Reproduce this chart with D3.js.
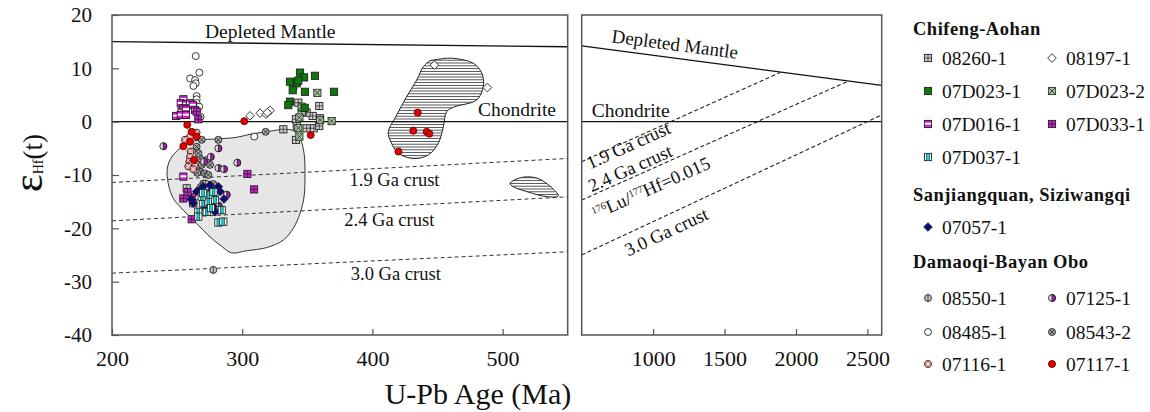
<!DOCTYPE html>
<html>
<head>
<meta charset="utf-8">
<script src="https://cdn.jsdelivr.net/npm/d3@7"></script>
<style>
  body { margin: 0; background: #fff; }
  svg { font-family: "Liberation Serif", "Times New Roman", serif; }
  svg text { font-family: "Liberation Serif", "Times New Roman", serif; }
</style>
</head>
<body>
<svg id="chart" width="1150" height="412"></svg>
<script>
/*data======================================================================================================*/
// [U-Pb age (Ma), eHf(t)]
var s08260_1 = [[343.1, 3.56], [359.2, 2.94], [354.1, 1.07], [349.5, 1.69], [345.7, 1.88], [359.8, 0.64], [341.3, 0.45],
  [341.9, -0.81], [349.5, -1.24], [355.1, -1.24], [359.2, -0.81], [331.6, -1.43], [341.3, -3.43], [257.4, -12.5], [262.4, -15.3]]
var s08197_1 = [[306, 1.1], [313.7, 1.6], [318.3, 1.4], [321.4, 2.1], [319.3, 1.7], [447.6, 10.6], [488.3, 6.4]]
var s07D023_1 = [[344.4, 9.2], [347.5, 8.3], [355.9, 8.6], [336.7, 7.5], [341.9, 7.2], [343.1, 7.7], [338.8, 5.9],
  [348.2, 5.6], [370.5, 5.6], [336.7, 3.75], [335.4, 3.1], [348, 2.6]]
var s07D023_2 = [[339.2, 6.7], [357.7, 5.4], [345.7, 2.8], [343.9, 0.8], [368.7, 0.1], [343.1, -1.2], [343.9, -2.8], [359.8, 0.3]]
var s07D016_1 = [[254.8, 4.2], [252.8, 3.45], [256.8, 3.3], [259.9, 3.45], [262, 3.1], [254.8, 2.5], [253.5, 1.9],
  [256.8, 2.3], [249.2, 1.07], [252.8, 1.25], [256.8, 1.25], [263.7, 2.2], [254.8, -10.3]]
var s07D033_1 = [[265, 1.9], [266.3, 0.45], [304, -9.8], [309.1, -12.7], [254.8, -14.4], [261.2, -14.1], [258, -13.2], [261.2, -18.3]]
var s07D037_1 = [[281.7, -18.9], [285.5, -18.75], [284.3, -16.6], [266.3, -16.9], [266.3, -17.8], [272.7, -16.9], [270.1, -15.3],
  [274, -15], [279.1, -14.7], [274, -13.7], [268.9, -14.06], [276, -16.2], [270, -13.4], [278, -13.2]]
var s07057_1 = [[270.1, -12.2], [275.3, -11.9], [281.7, -12.2], [276.6, -12.8], [283, -13.1], [265, -13.1], [262.4, -15.3],
  [277.8, -15.9], [279.1, -16.9], [271.4, -16.2], [268, -12.7], [273, -14.3], [286, -14.5], [261, -14.6]]
var s08550_1 = [[277.8, -27.8], [272, -11.6], [268, -12.3]]
var s07125_1 = [[239.4, -4.6], [281.7, -5.0], [275.8, -6.6], [281.7, -8.7], [286, -8.9], [296.2, -7.7], [270.7, -7.5], [288.1, -13.7], [282, -15.8]]
var s08485_1 = [[264.3, 12.3], [267.1, 9.2], [260, 8.1], [263.8, 7.8], [264.3, 7.2], [262.5, 6.7], [265, 4.8], [265, 4.2],
  [265, 3.5], [265, 2.9], [267, 2.8], [265, 2.1], [268, 0.9], [309.3, -2.8]]
var s08543_2 = [[265, -4.7], [268.9, -3.4], [267.6, -6.9], [272.7, -7.2], [268.9, -8.1], [267.6, -9.4], [271.4, -9.7], [275.3, -8.1],
  [274, -10], [281.7, -3.4], [318, -1.9], [265.5, -9.6], [270.1, -11.6], [277.8, -11.7], [266.3, -5.9]]
var s07116_1 = [[259.9, -2.8], [256.1, -3.4], [260.4, -5.6], [259.9, -6.6], [259.4, -7.5], [261.2, -7.9], [258.6, -8.4],
  [263.7, -8.3], [262.4, -8.9], [265, -2.06]]
var s07117_1 = [[257.8, -0.6], [301.6, 0.1], [352.6, -2.5], [261.2, -1.9], [254.8, -4.6], [259.9, -3.75], [265, -2.8],
  [434.8, 1.7], [431.4, -1.7], [441.7, -1.9], [443.7, -2.25], [420, -5.6], [263, -7.2]]

// outline of the grey field and the two hatched fields
var greyField = [[267.6, -3.43], [280.4, -3.24], [295.8, -2.93], [306, -2.36], [313.7, -2.06], [323.9, -1.69], [331.6, -1.43],
  [339.2, -1.69], [344.4, -3.1], [347.5, -5.9], [348.2, -9.7], [347.5, -14.1], [344.4, -17.2], [339.2, -20], [331.6, -22.2],
  [318.8, -23.6], [303.5, -24.2], [291.9, -24.6], [284.3, -23.4], [275.3, -21.6], [265.1, -19.1], [254.8, -16.6], [247.1, -14.4],
  [243.2, -11.6], [242.5, -8.7], [245.9, -6.6], [252.2, -5.0], [259.9, -3.9]]
var hatchField1 = [[448.1, 11.6], [460.9, 11.9], [477.5, 10.95], [484, 9.1], [485.2, 6.6], [480.1, 4.07], [463.4, 2.8],
  [457.1, 1.9], [454.5, -0.94], [450.6, -4.05], [442.9, -6.25], [431.4, -6.9], [419.9, -5.9], [413.5, -3.4], [412.2, -1.9],
  [418.7, 1.26], [426.3, 4.7], [434, 7.8], [439.1, 10.3], [444.2, 11.4]]
var hatchField2 = [[505.7, -11.55], [515.9, -10.4], [528.7, -10.8], [542.8, -13.9], [533.9, -14.06], [518.5, -13.1], [508.2, -12.2]]

// evolution lines
var dmLeft = [[200, 15.0], [550, 14.05]]
var dmRight = [[500, 14.2], [2600, 6.8]]
var crustNames = ["1.9 Ga crust", "2.4 Ga crust", "3.0 Ga crust"]
var crustLeft = [[[200, -11.4], [550, -6.9]], [[200, -18.6], [550, -14.1]], [[200, -28.4], [550, -24.4]]]
var crustRight = [[[500, -7.5], [1888, 9.2]], [[500, -14.7], [2366, 7.6]], [[500, -25], [2600, 1.25]]]

var yTicks = [20, 10, 0, -10, -20, -30, -40]
var xTicksLeft = [200, 300, 400, 500]
var xTicksRight = [1000, 1500, 2000, 2500]

/*chart======================================================================================================*/
var svg = d3.select("#chart")

var xL = d3.scaleLinear().domain([200, 550]).range([112, 567.7])
var xR = d3.scaleLinear().domain([500, 2600]).range([581.7, 881.7])
var y = d3.scaleLinear().domain([-40, 20]).range([335, 15])

var defs = svg.append("defs")
var hatch = defs.append("pattern").attr("id", "hatch")
  .attr("patternUnits", "userSpaceOnUse").attr("width", 8).attr("height", 2.8)
hatch.append("rect").attr("width", 8).attr("height", 2.8).attr("fill", "#fff")
hatch.append("line").attr("x1", 0).attr("x2", 8).attr("y1", 1.4).attr("y2", 1.4)
  .attr("stroke", "#222").attr("stroke-width", 0.8)

defs.append("clipPath").attr("id", "clipL").append("rect")
  .attr("x", 112).attr("y", 15).attr("width", 455.7).attr("height", 320)
defs.append("clipPath").attr("id", "clipR").append("rect")
  .attr("x", 581.7).attr("y", 15).attr("width", 300).attr("height", 320)

var shape = d3.line().x(d => xL(d[0])).y(d => y(d[1])).curve(d3.curveCatmullRomClosed)
var lineL = d3.line().x(d => xL(d[0])).y(d => y(d[1]))
var lineR = d3.line().x(d => xR(d[0])).y(d => y(d[1]))

var left = svg.append("g").attr("clip-path", "url(#clipL)")
var right = svg.append("g").attr("clip-path", "url(#clipR)")

//fields
left.append("path").datum(greyField).attr("d", shape)
  .attr("fill", "#e6e6e6").attr("stroke", "#333").attr("stroke-width", 1)
left.selectAll("path.hatch").data([hatchField1, hatchField2]).enter().append("path")
  .attr("class", "hatch").attr("d", shape)
  .attr("fill", "url(#hatch)").attr("stroke", "#222").attr("stroke-width", 1)

//chondrite
left.append("line").attr("x1", xL(200)).attr("x2", xL(550)).attr("y1", y(0)).attr("y2", y(0))
  .attr("stroke", "#111").attr("stroke-width", 1.3)
right.append("line").attr("x1", xR(500)).attr("x2", xR(2600)).attr("y1", y(0)).attr("y2", y(0))
  .attr("stroke", "#111").attr("stroke-width", 1.3)

//depleted mantle
left.append("path").datum(dmLeft).attr("d", lineL).attr("fill", "none").attr("stroke", "#111").attr("stroke-width", 1.3)
right.append("path").datum(dmRight).attr("d", lineR).attr("fill", "none").attr("stroke", "#111").attr("stroke-width", 1.3)

//crust lines
left.selectAll("path.crust").data(crustLeft).enter().append("path").attr("class", "crust")
  .attr("d", lineL).attr("fill", "none").attr("stroke", "#333").attr("stroke-width", 1).attr("stroke-dasharray", "4 3")
right.selectAll("path.crust").data(crustRight).enter().append("path").attr("class", "crust")
  .attr("d", lineR).attr("fill", "none").attr("stroke", "#222").attr("stroke-width", 1.1).attr("stroke-dasharray", "4 2.5")

/*line labels===============================================================================================*/
var lab = svg.append("g").attr("fill", "#111").style("font-size", "18.5px")
lab.append("text").attr("x", 205).attr("y", 38).style("font-size", "19.5px").text("Depleted Mantle")
lab.append("text").attr("x", 478).attr("y", 116).style("font-size", "19.5px").text("Chondrite")
lab.append("text").attr("x", 591.7).attr("y", 116.5).style("font-size", "19.5px").text("Chondrite")

function atLine(pts, age) {
  var t = (age - pts[0][0]) / (pts[1][0] - pts[0][0])
  return pts[0][1] + t * (pts[1][1] - pts[0][1])
}
// left panel crust labels (horizontal, under the line)
var leftLab = [[384, 16], [380, 17], [385, 18]]
crustNames.forEach((n, i) => {
  lab.append("text").attr("x", xL(leftLab[i][0]) - 2)
    .attr("y", y(atLine(crustLeft[i], leftLab[i][0])) + leftLab[i][1]).text(n)
})
// right panel labels follow their line
function angleR(pts) {
  return Math.atan2(y(pts[1][1]) - y(pts[0][1]), xR(pts[1][0]) - xR(pts[0][0])) * 180 / Math.PI
}
function rightLabel(pts, age, off) {
  return lab.append("text").attr("text-anchor", "middle")
    .attr("transform", `translate(${xR(age)},${y(atLine(pts, age))}) rotate(${angleR(pts)}) translate(0,${off})`)
}
rightLabel(dmRight, 1140, -7.5).style("font-size", "19px").text("Depleted Mantle")
rightLabel(crustRight[0], 815, 10.5).text(crustNames[0])
rightLabel(crustRight[1], 866, -3).text(crustNames[1])
var lu = rightLabel(crustRight[1], 936, 23.5)
lu.append("tspan").style("font-size", "10px").attr("dy", -6).text("176")
lu.append("tspan").attr("dy", 6).text("Lu/")
lu.append("tspan").style("font-size", "10px").attr("dy", -6).text("177")
lu.append("tspan").attr("dy", 6).text("Hf=0.015")
rightLabel(crustRight[2], 1048, 21).text(crustNames[2])

/*frames and axes===========================================================================================*/
svg.append("rect").attr("x", 112).attr("y", 15).attr("width", 455.7).attr("height", 320)
  .attr("fill", "none").attr("stroke", "#555").attr("stroke-width", 1.5)
svg.append("rect").attr("x", 581.7).attr("y", 15).attr("width", 300).attr("height", 320)
  .attr("fill", "none").attr("stroke", "#555").attr("stroke-width", 1.5)

function styleAxis(g, size) {
  g.attr("font-family", "Liberation Serif").attr("font-size", size)
  g.select(".domain").remove()
  g.selectAll(".tick line").attr("stroke", "#555").attr("stroke-width", 1.2)
  g.selectAll(".tick text").attr("fill", "#111").style("font-size", size)
}
var plain = d => String(d)
svg.append("g").attr("transform", "translate(112,0)")
  .call(d3.axisLeft(y).tickValues(yTicks).tickFormat(plain).tickSizeInner(-7).tickSizeOuter(0).tickPadding(20))
  .call(g => styleAxis(g, "21px"))
svg.append("g").attr("transform", "translate(0,335)")
  .call(d3.axisBottom(xL).tickValues(xTicksLeft).tickFormat(plain).tickSizeInner(-6).tickSizeOuter(0).tickPadding(15))
  .call(g => styleAxis(g, "22px"))
svg.append("g").attr("transform", "translate(0,335)")
  .call(d3.axisBottom(xR).tickValues(xTicksRight).tickFormat(plain).tickSizeInner(-6).tickSizeOuter(0).tickPadding(15))
  .call(g => styleAxis(g, "22px"))

svg.append("text").attr("x", 478).attr("y", 404).attr("text-anchor", "middle")
  .style("font-size", "30px").attr("fill", "#111").text("U-Pb Age (Ma)")

var yt = svg.append("text").attr("transform", "translate(42,163) rotate(-90)")
  .attr("text-anchor", "middle").attr("fill", "#111")
yt.append("tspan").style("font-size", "42px").text("ε")
yt.append("tspan").style("font-size", "14px").attr("dy", 1).text("Hf")
yt.append("tspan").style("font-size", "27px").attr("dy", -1).text("(t)")

/*symbols===================================================================================================*/
var styles = {
  "08260-1": { shape: "sq", fill: "#cfcfcf", mark: "grid", ink: "#333" },
  "08197-1": { shape: "dm", fill: "#fff" },
  "07D023-1": { shape: "sq", fill: "#0b7a0b" },
  "07D023-2": { shape: "sq", fill: "#a9c2a9", mark: "x", ink: "#222", stroke: "#1d3d1d" },
  "07D016-1": { shape: "sq", fill: "#d41cd4", mark: "band" },
  "07D033-1": { shape: "sq", fill: "#d41cd4", mark: "grid", ink: "#222" },
  "07D037-1": { shape: "sq", fill: "#fff", mark: "vband" },
  "07057-1": { shape: "dm", fill: "#0a0a80" },
  "08550-1": { shape: "ci", fill: "#c4c4c4", mark: "vline", ink: "#222" },
  "07125-1": { shape: "ci", fill: "#e0e0e0", mark: "half" },
  "08485-1": { shape: "ci", fill: "#fff" },
  "08543-2": { shape: "ci", fill: "#a8a8a8", mark: "x", ink: "#222" },
  "07116-1": { shape: "ci", fill: "#f08a8a", mark: "x", ink: "#fff" },
  "07117-1": { shape: "ci", fill: "#e60000", stroke: "#600" }
}
var S = 3.6, R = 3.5, D = 4.3
function drawMarker(g, st) {
  var stroke = st.stroke || "#222"
  if (st.shape === "sq") {
    g.append("rect").attr("x", -S).attr("y", -S).attr("width", 2 * S).attr("height", 2 * S)
      .attr("fill", st.fill).attr("stroke", stroke).attr("stroke-width", 0.9)
  } else if (st.shape === "dm") {
    g.append("path").attr("d", `M0,${-D}L${D},0L0,${D}L${-D},0Z`)
      .attr("fill", st.fill).attr("stroke", stroke).attr("stroke-width", 0.9)
  } else {
    g.append("circle").attr("r", R).attr("fill", st.fill).attr("stroke", stroke).attr("stroke-width", 0.9)
  }
  var k = st.shape === "sq" ? S - 0.6 : R * 0.68
  if (st.mark === "grid") {
    g.append("path").attr("d", `M${-S},0H${S}M0,${-S}V${S}`).attr("stroke", st.ink).attr("stroke-width", 0.8)
  } else if (st.mark === "x") {
    g.append("path").attr("d", `M${-k},${-k}L${k},${k}M${-k},${k}L${k},${-k}`)
      .attr("stroke", st.ink).attr("stroke-width", 0.8)
  } else if (st.mark === "band") {
    g.append("rect").attr("x", -S + 0.6).attr("y", -1.3).attr("width", 2 * S - 1.2).attr("height", 2)
      .attr("fill", "#fff")
  } else if (st.mark === "vband") {
    g.append("rect").attr("x", -1.4).attr("y", -S).attr("width", 2.8).attr("height", 2 * S)
      .attr("fill", "#00dede").attr("stroke", "#222").attr("stroke-width", 0.6)
  } else if (st.mark === "vline") {
    g.append("path").attr("d", `M0,${-R}V${R}`).attr("stroke", st.ink).attr("stroke-width", 0.8)
  } else if (st.mark === "half") {
    g.append("path").attr("d", `M0,${-R}A${R},${R} 0 0 1 0,${R}Z`)
      .attr("fill", "#a41fb4").attr("stroke", "#222").attr("stroke-width", 0.9)
  }
}

var series = [
  ["08485-1", s08485_1], ["08543-2", s08543_2], ["07116-1", s07116_1], ["07125-1", s07125_1],
  ["08550-1", s08550_1], ["07117-1", s07117_1], ["08260-1", s08260_1], ["07D023-2", s07D023_2],
  ["07D023-1", s07D023_1], ["08197-1", s08197_1], ["07D016-1", s07D016_1], ["07D033-1", s07D033_1],
  ["07057-1", s07057_1], ["07D037-1", s07D037_1]
]
series.forEach(s => {
  left.selectAll(null).data(s[1]).enter().append("g")
    .attr("transform", d => `translate(${xL(d[0])},${y(d[1])})`)
    .each(function () { drawMarker(d3.select(this), styles[s[0]]) })
})

/*legend====================================================================================================*/
var legend = svg.append("g").attr("fill", "#111")
var heads = [["Chifeng-Aohan", 35], ["Sanjiangquan, Siziwangqi", 201], ["Damaoqi-Bayan Obo", 268]]
heads.forEach(h => {
  legend.append("text").attr("x", 913).attr("y", h[1]).style("font-size", "18.5px")
    .style("font-weight", "bold").style("letter-spacing", "0.5px").text(h[0])
})
var legendItems = [
  ["08260-1", 0, 58], ["08197-1", 1, 58], ["07D023-1", 0, 91], ["07D023-2", 1, 91],
  ["07D016-1", 0, 124], ["07D033-1", 1, 124], ["07D037-1", 0, 157],
  ["07057-1", 0, 227],
  ["08550-1", 0, 298], ["07125-1", 1, 298], ["08485-1", 0, 332], ["08543-2", 1, 332],
  ["07116-1", 0, 364], ["07117-1", 1, 364]
]
legendItems.forEach(it => {
  var mx = it[1] ? 1052 : 928
  var g = legend.append("g").attr("transform", `translate(${mx},${it[2]})`)
  drawMarker(g, styles[it[0]])
  legend.append("text").attr("x", mx + 14).attr("y", it[2] + 6.5).style("font-size", "19.5px").text(it[0])
})
</script>
</body>
</html>
